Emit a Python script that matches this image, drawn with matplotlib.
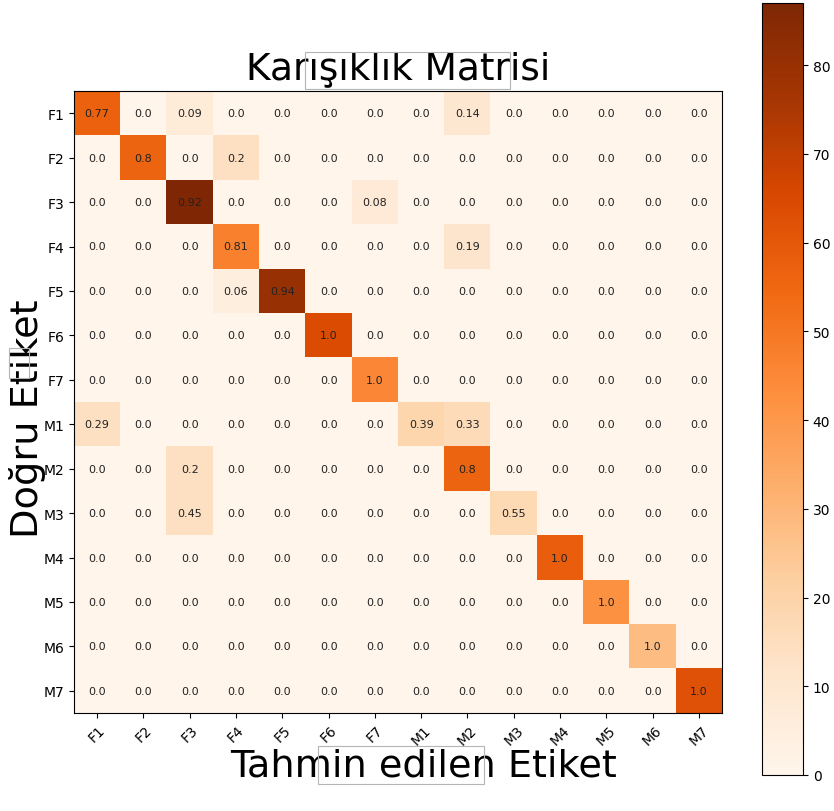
import numpy as np
import matplotlib
matplotlib.use('Agg')
import matplotlib.pyplot as plt
from matplotlib.patches import Rectangle

classes = ['F1', 'F2', 'F3', 'F4', 'F5', 'F6', 'F7',
           'M1', 'M2', 'M3', 'M4', 'M5', 'M6', 'M7']

# raw counts (rows = true, cols = predicted)
row_f1 = [57, 0, 7, 0, 0, 0, 0, 0, 10, 0, 0, 0, 0, 0]
row_f2 = [0, 56, 0, 14, 0, 0, 0, 0, 0, 0, 0, 0, 0, 0]
row_f3 = [0, 0, 87, 0, 0, 0, 8, 0, 0, 0, 0, 0, 0, 0]
row_f4 = [0, 0, 0, 47, 0, 0, 0, 0, 11, 0, 0, 0, 0, 0]
row_f5 = [0, 0, 0, 5, 80, 0, 0, 0, 0, 0, 0, 0, 0, 0]
row_f6 = [0, 0, 0, 0, 0, 64, 0, 0, 0, 0, 0, 0, 0, 0]
row_f7 = [0, 0, 0, 0, 0, 0, 45, 0, 0, 0, 0, 0, 0, 0]
row_m1 = [14, 0, 0, 0, 0, 0, 0, 19, 16, 0, 0, 0, 0, 0]
row_m2 = [0, 0, 14, 0, 0, 0, 0, 0, 56, 0, 0, 0, 0, 0]
row_m3 = [0, 0, 14, 0, 0, 0, 0, 0, 0, 17, 0, 0, 0, 0]
row_m4 = [0, 0, 0, 0, 0, 0, 0, 0, 0, 0, 58, 0, 0, 0]
row_m5 = [0, 0, 0, 0, 0, 0, 0, 0, 0, 0, 0, 42, 0, 0]
row_m6 = [0, 0, 0, 0, 0, 0, 0, 0, 0, 0, 0, 0, 28, 0]
row_m7 = [0, 0, 0, 0, 0, 0, 0, 0, 0, 0, 0, 0, 0, 62]

cm = np.array([row_f1, row_f2, row_f3, row_f4, row_f5, row_f6, row_f7,
               row_m1, row_m2, row_m3, row_m4, row_m5, row_m6, row_m7])
cm_norm = np.round(cm / cm.sum(axis=1, keepdims=True), 2)

fig = plt.figure(figsize=(8.34, 8.12), dpi=100)
ax = fig.add_axes([74 / 834, 98 / 812, 648 / 834, 622 / 812])
cax = fig.add_axes([762 / 834, 36 / 812, 41 / 834, 772 / 812])

im = ax.imshow(cm, cmap='Oranges', aspect='auto')
cb = fig.colorbar(im, cax=cax)
cb.set_ticks(np.arange(0, 90, 10))
cb.ax.tick_params(labelsize=10)

for i in range(len(classes)):
    for j in range(len(classes)):
        ax.text(j, i, str(cm_norm[i, j]), ha='center', va='center',
                fontsize=8, color='#222222')

ax.set_xticks(range(len(classes)))
ax.set_xticklabels(classes, rotation=45, fontsize=10)
ax.set_yticks(range(len(classes)))
ax.set_yticklabels(classes, fontsize=10)

ax.set_title('Karışıklık Matrisi', fontsize=27, pad=9)
ax.set_xlabel('Tahmin edilen Etiket', fontsize=27.5)
ax.set_ylabel('Doğru Etiket', fontsize=27.5)
ax.xaxis.set_label_coords(0.54, -0.056)
ax.yaxis.set_label_coords(-0.043, 0.475)

# leftover thin boxes seen around the labels
for x0, y0, w, h in [(305, 53, 205, 37), (318, 747, 166, 38), (9, 349, 20, 30)]:
    fig.patches.append(Rectangle((x0 / 834, 1 - (y0 + h) / 812), w / 834, h / 812,
                                 transform=fig.transFigure, fill=False,
                                 edgecolor='#b5b5b5', linewidth=0.8))

plt.savefig('out.png', dpi=100)
